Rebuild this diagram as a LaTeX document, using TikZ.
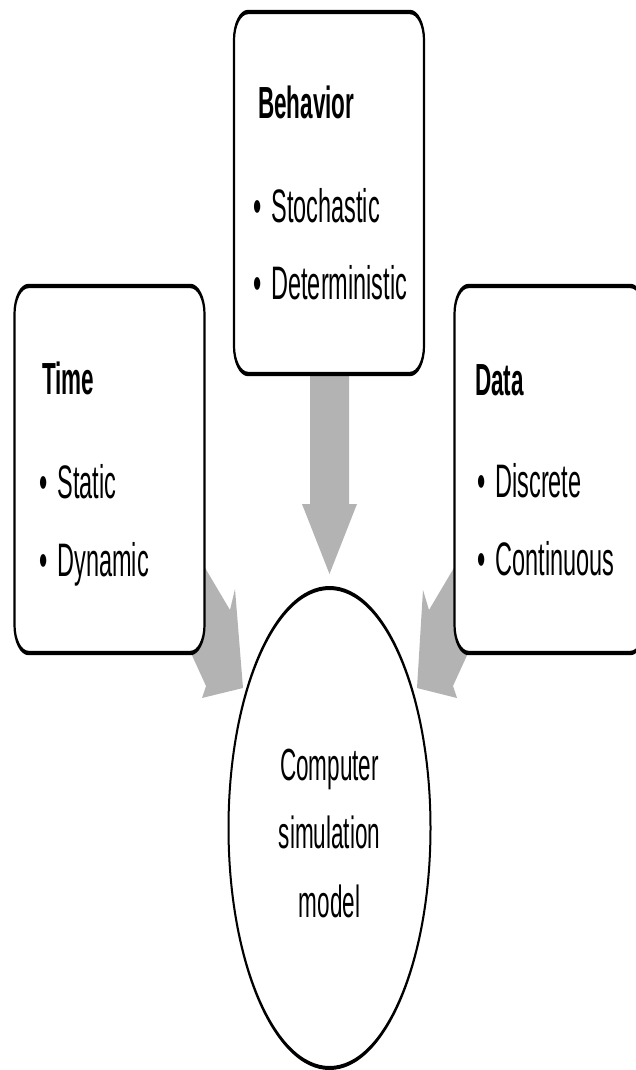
\documentclass[tikz,border=0pt]{standalone}
\usepackage{fontspec}
\setmainfont{Liberation Sans}
\usetikzlibrary{shapes.geometric}
\definecolor{arrowgray}{HTML}{B3B3B3}
\tikzset{
  panel/.style={draw=black, line width=4.4pt, fill=white, rounded corners=28pt,
    minimum width=380pt, inner sep=0pt},
  heading/.style={anchor=base west, inner sep=0pt, font=\fontsize{45}{54}\selectfont\bfseries},
  entry/.style={anchor=base west, inner sep=0pt, font=\fontsize{47}{56}\selectfont},
  core/.style={ellipse, draw=black, line width=4pt, fill=white,
    minimum width=404pt, minimum height=480pt, inner sep=0pt},
  coretext/.style={anchor=base, inner sep=0pt, font=\fontsize{45}{54}\selectfont},
  flow/.style={fill=arrowgray},
}
\newcommand{\itembullet}{•\hspace{0.43em}}
\begin{document}
\begin{tikzpicture}
\useasboundingbox (0,0) rectangle (635pt,-1070pt);
% everything is laid out on a double-width grid and squeezed horizontally
\begin{scope}[x=2pt, y=-1pt, transform canvas={xscale=0.5}]
  % broad grey arrows, drawn first so the panels cover their tails
  \fill[flow] (310,360) -- (349,360) -- (349,504) -- (357,504) -- (329.5,574)
              -- (302,504) -- (310,504) -- cycle;
  \fill[flow] (185,534) -- (230,610) -- (235,589) -- (243,688) -- (202,698)
              -- (206,686) -- (185,640) -- cycle;
  \fill[flow] (474,534) -- (429,610) -- (423,590) -- (417,688) -- (457,698)
              -- (453,686) -- (474,640) -- cycle;

  % the three category panels
  \node[panel, minimum height=362pt] (behavior) at (329,193) {};
  \node[panel, minimum height=367pt] (time) at (109.5,469.5) {};
  \node[panel, minimum height=367pt] (data) at (549.5,469.5) {};

  % panel texts
  \node[heading] (behaviorhead) at (258,119) {Behavior};
  \node[entry] (stoch) at (253,222) {\itembullet Stochastic};
  \node[entry] (determ) at (253,299) {\itembullet Deterministic};

  \node[heading] (timehead) at (42,394) {Time};
  \node[entry] (static) at (39,498) {\itembullet Static};
  \node[entry] (dynamic) at (39,576) {\itembullet Dynamic};

  \node[heading] (datahead) at (475,395) {Data};
  \node[entry] (discrete) at (477,497) {\itembullet Discrete};
  \node[entry] (continuous) at (477,575) {\itembullet Continuous};

  % the model in the middle
  \node[core] (model) at (329.5,828) {};
  \node[coretext] (m1) at (329.5,780) {Computer};
  \node[coretext] (m2) at (329.5,848) {simulation};
  \node[coretext] (m3) at (329.5,917) {model};
\end{scope}
\end{tikzpicture}
\end{document}
